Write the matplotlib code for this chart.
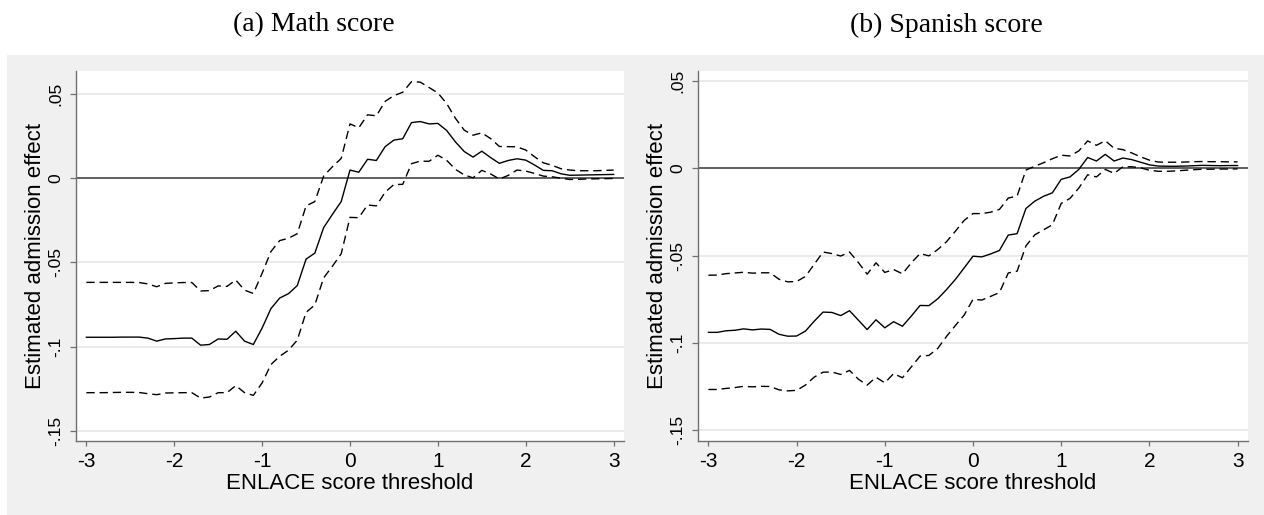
import matplotlib
matplotlib.use("Agg")
import matplotlib.pyplot as plt
from matplotlib.patches import Rectangle

thresholds = [-3.0, -2.9, -2.8, -2.7, -2.6, -2.5, -2.4, -2.3, -2.2, -2.1,
              -2.0, -1.9, -1.8, -1.7, -1.6, -1.5, -1.4, -1.3, -1.2, -1.1,
              -1.0, -0.9, -0.8, -0.7, -0.6, -0.5, -0.4, -0.3, -0.2, -0.1,
              0.0, 0.1, 0.2, 0.3, 0.4, 0.5, 0.6, 0.7, 0.8, 0.9,
              1.0, 1.1, 1.2, 1.3, 1.4, 1.5, 1.6, 1.7, 1.8, 1.9,
              2.0, 2.1, 2.2, 2.3, 2.4, 2.5, 2.6, 2.7, 2.8, 2.9, 3.0]

math_est = [-0.0945, -0.0945, -0.0945, -0.0945, -0.0944, -0.0944, -0.0944, -0.0950, -0.0968, -0.0955,
            -0.0953, -0.0950, -0.0950, -0.0992, -0.0988, -0.0955, -0.0957, -0.0909, -0.0968, -0.0988,
            -0.0890, -0.0775, -0.0712, -0.0686, -0.0638, -0.0481, -0.0445, -0.0294, -0.0215, -0.0139,
            0.0048, 0.0035, 0.0112, 0.0105, 0.0187, 0.0226, 0.0234, 0.0330, 0.0336, 0.0322,
            0.0325, 0.0283, 0.0215, 0.0158, 0.0125, 0.0160, 0.0122, 0.0088, 0.0105, 0.0115,
            0.0107, 0.0078, 0.0046, 0.0044, 0.0026, 0.0017, 0.0018, 0.0019, 0.0020, 0.0021, 0.0022]
math_hi = [-0.0619, -0.0619, -0.0619, -0.0619, -0.0619, -0.0619, -0.0620, -0.0628, -0.0645, -0.0625,
           -0.0622, -0.0620, -0.0620, -0.0670, -0.0668, -0.0640, -0.0643, -0.0605, -0.0665, -0.0685,
           -0.0565, -0.0436, -0.0371, -0.0357, -0.0330, -0.0165, -0.0139, 0.0012, 0.0068, 0.0117,
           0.0322, 0.0299, 0.0376, 0.0370, 0.0456, 0.0490, 0.0510, 0.0573, 0.0570, 0.0538,
           0.0506, 0.0443, 0.0355, 0.0285, 0.0255, 0.0269, 0.0235, 0.0188, 0.0187, 0.0186,
           0.0167, 0.0127, 0.0091, 0.0076, 0.0056, 0.0048, 0.0044, 0.0044, 0.0044, 0.0046, 0.0048]
math_lo = [-0.1274, -0.1274, -0.1274, -0.1273, -0.1272, -0.1272, -0.1273, -0.1280, -0.1286, -0.1276,
           -0.1275, -0.1274, -0.1274, -0.1306, -0.1300, -0.1274, -0.1274, -0.1232, -0.1274, -0.1290,
           -0.1216, -0.1107, -0.1058, -0.1022, -0.0962, -0.0797, -0.0753, -0.0592, -0.0523, -0.0449,
           -0.0233, -0.0235, -0.0159, -0.0165, -0.0083, -0.0038, -0.0037, 0.0086, 0.0101, 0.0100,
           0.0136, 0.0106, 0.0052, 0.0019, 0.0002, 0.0046, 0.0025, -0.0005, 0.0016, 0.0048,
           0.0042, 0.0028, 0.0012, 0.0008, 0.0000, -0.0008, -0.0007, -0.0005, -0.0004, -0.0003, -0.0002]

span_est = [-0.0939, -0.0939, -0.0930, -0.0927, -0.0919, -0.0925, -0.0920, -0.0922, -0.0950, -0.0961,
            -0.0960, -0.0932, -0.0875, -0.0823, -0.0825, -0.0843, -0.0815, -0.0869, -0.0923, -0.0867,
            -0.0913, -0.0878, -0.0904, -0.0846, -0.0785, -0.0786, -0.0747, -0.0694, -0.0636, -0.0570,
            -0.0503, -0.0507, -0.0490, -0.0470, -0.0382, -0.0374, -0.0230, -0.0188, -0.0160, -0.0140,
            -0.0063, -0.0049, -0.0006, 0.0062, 0.0042, 0.0080, 0.0042, 0.0059, 0.0050, 0.0035,
            0.0020, 0.0013, 0.0012, 0.0012, 0.0013, 0.0015, 0.0017, 0.0016, 0.0015, 0.0016, 0.0016]
span_hi = [-0.0612, -0.0611, -0.0603, -0.0599, -0.0595, -0.0600, -0.0598, -0.0598, -0.0635, -0.0650,
           -0.0648, -0.0619, -0.0549, -0.0479, -0.0488, -0.0502, -0.0479, -0.0539, -0.0606, -0.0541,
           -0.0596, -0.0579, -0.0604, -0.0541, -0.0488, -0.0501, -0.0465, -0.0420, -0.0360, -0.0298,
           -0.0259, -0.0259, -0.0251, -0.0235, -0.0170, -0.0159, -0.0010, 0.0012, 0.0032, 0.0055,
           0.0075, 0.0071, 0.0100, 0.0157, 0.0132, 0.0158, 0.0115, 0.0107, 0.0088, 0.0066,
           0.0047, 0.0036, 0.0035, 0.0035, 0.0036, 0.0038, 0.0039, 0.0038, 0.0038, 0.0037, 0.0037]
span_lo = [-0.1266, -0.1266, -0.1260, -0.1255, -0.1248, -0.1251, -0.1248, -0.1249, -0.1268, -0.1274,
           -0.1271, -0.1241, -0.1195, -0.1167, -0.1166, -0.1180, -0.1157, -0.1207, -0.1241, -0.1196,
           -0.1228, -0.1175, -0.1199, -0.1137, -0.1075, -0.1071, -0.1031, -0.0962, -0.0900, -0.0840,
           -0.0750, -0.0754, -0.0733, -0.0711, -0.0599, -0.0589, -0.0444, -0.0381, -0.0352, -0.0323,
           -0.0201, -0.0172, -0.0113, -0.0037, -0.0049, -0.0006, -0.0029, 0.0009, 0.0009, 0.0003,
           -0.0011, -0.0017, -0.0017, -0.0015, -0.0011, -0.0008, -0.0005, -0.0005, -0.0004, -0.0004, -0.0003]

panel_titles = ["(a) Math score", "(b) Spanish score"]
xticks = [-3, -2, -1, 0, 1, 2, 3]
xtick_labels = ["-3", "-2", "-1", "0", "1", "2", "3"]
yticks = [0.05, 0.0, -0.05, -0.10, -0.15]
ytick_labels = [".05", "0", "-.05", "-.1", "-.15"]
xlabel = "ENLACE score threshold"
ylabel = "Estimated admission effect"

W, H = 1264, 515
fig = plt.figure(figsize=(W / 100, H / 100), dpi=100)
fig.patch.set_facecolor("white")
fig.patches.append(Rectangle((7 / W, 0), 1 - 7 / W, (H - 55) / H, transform=fig.transFigure,
                             facecolor="#f0f0f0", edgecolor="none", zorder=-10))

sans = ["Liberation Sans", "DejaVu Sans"]
serif = ["Liberation Serif", "DejaVu Serif"]

panels = [
    (76, 624, 0.0638, math_est, math_hi, math_lo, 314),
    (698, 1248, 0.0559, span_est, span_hi, span_lo, 946),
]
top_px, bot_px = 70.7, 441
for i, (l, r, ytop, est, hi, lo, tx) in enumerate(panels):
    ax = fig.add_axes([l / W, (H - bot_px) / H, (r - l) / W, (bot_px - top_px) / H])
    ax.set_facecolor("white")
    ax.set_xlim(-3.118, 3.118)
    ax.set_ylim(-0.1561, ytop)
    for yv in yticks:
        ax.axhline(yv, color="#e6e6e6", lw=1.1, zorder=0)
    ax.axhline(0, color="#3a3a3a", lw=1.1, zorder=1)
    ax.plot(thresholds, est, color="black", lw=1.0, zorder=3)
    ax.plot(thresholds, hi, color="black", lw=1.0, dashes=(6, 3.5), zorder=3)
    ax.plot(thresholds, lo, color="black", lw=1.0, dashes=(6, 3.5), zorder=3)
    for s in ["top", "right"]:
        ax.spines[s].set_visible(False)
    for s in ["left", "bottom"]:
        ax.spines[s].set_color("#707070")
        ax.spines[s].set_linewidth(1.0)
    ax.set_xticks(xticks)
    ax.set_xticklabels(xtick_labels, fontfamily=sans, fontsize=15)
    ax.set_yticks(yticks)
    ax.set_yticklabels(ytick_labels, fontfamily=sans, fontsize=12.5, rotation=90, va="center")
    ax.tick_params(axis="x", direction="out", length=3.6, width=0.9, color="#707070", pad=4.5)
    ax.tick_params(axis="y", direction="out", length=4.6, width=0.9, color="#707070", pad=4.5)
    ax.set_xlabel(xlabel, fontfamily=sans, fontsize=16, labelpad=1.5)
    ax.set_ylabel(ylabel, fontfamily=sans, fontsize=16, labelpad=2)
    fig.text(tx / W, 1 - 25 / H, panel_titles[i], fontfamily=serif, fontsize=20,
             ha="center", va="center")

fig.savefig("out.png", dpi=100, facecolor=fig.get_facecolor())
